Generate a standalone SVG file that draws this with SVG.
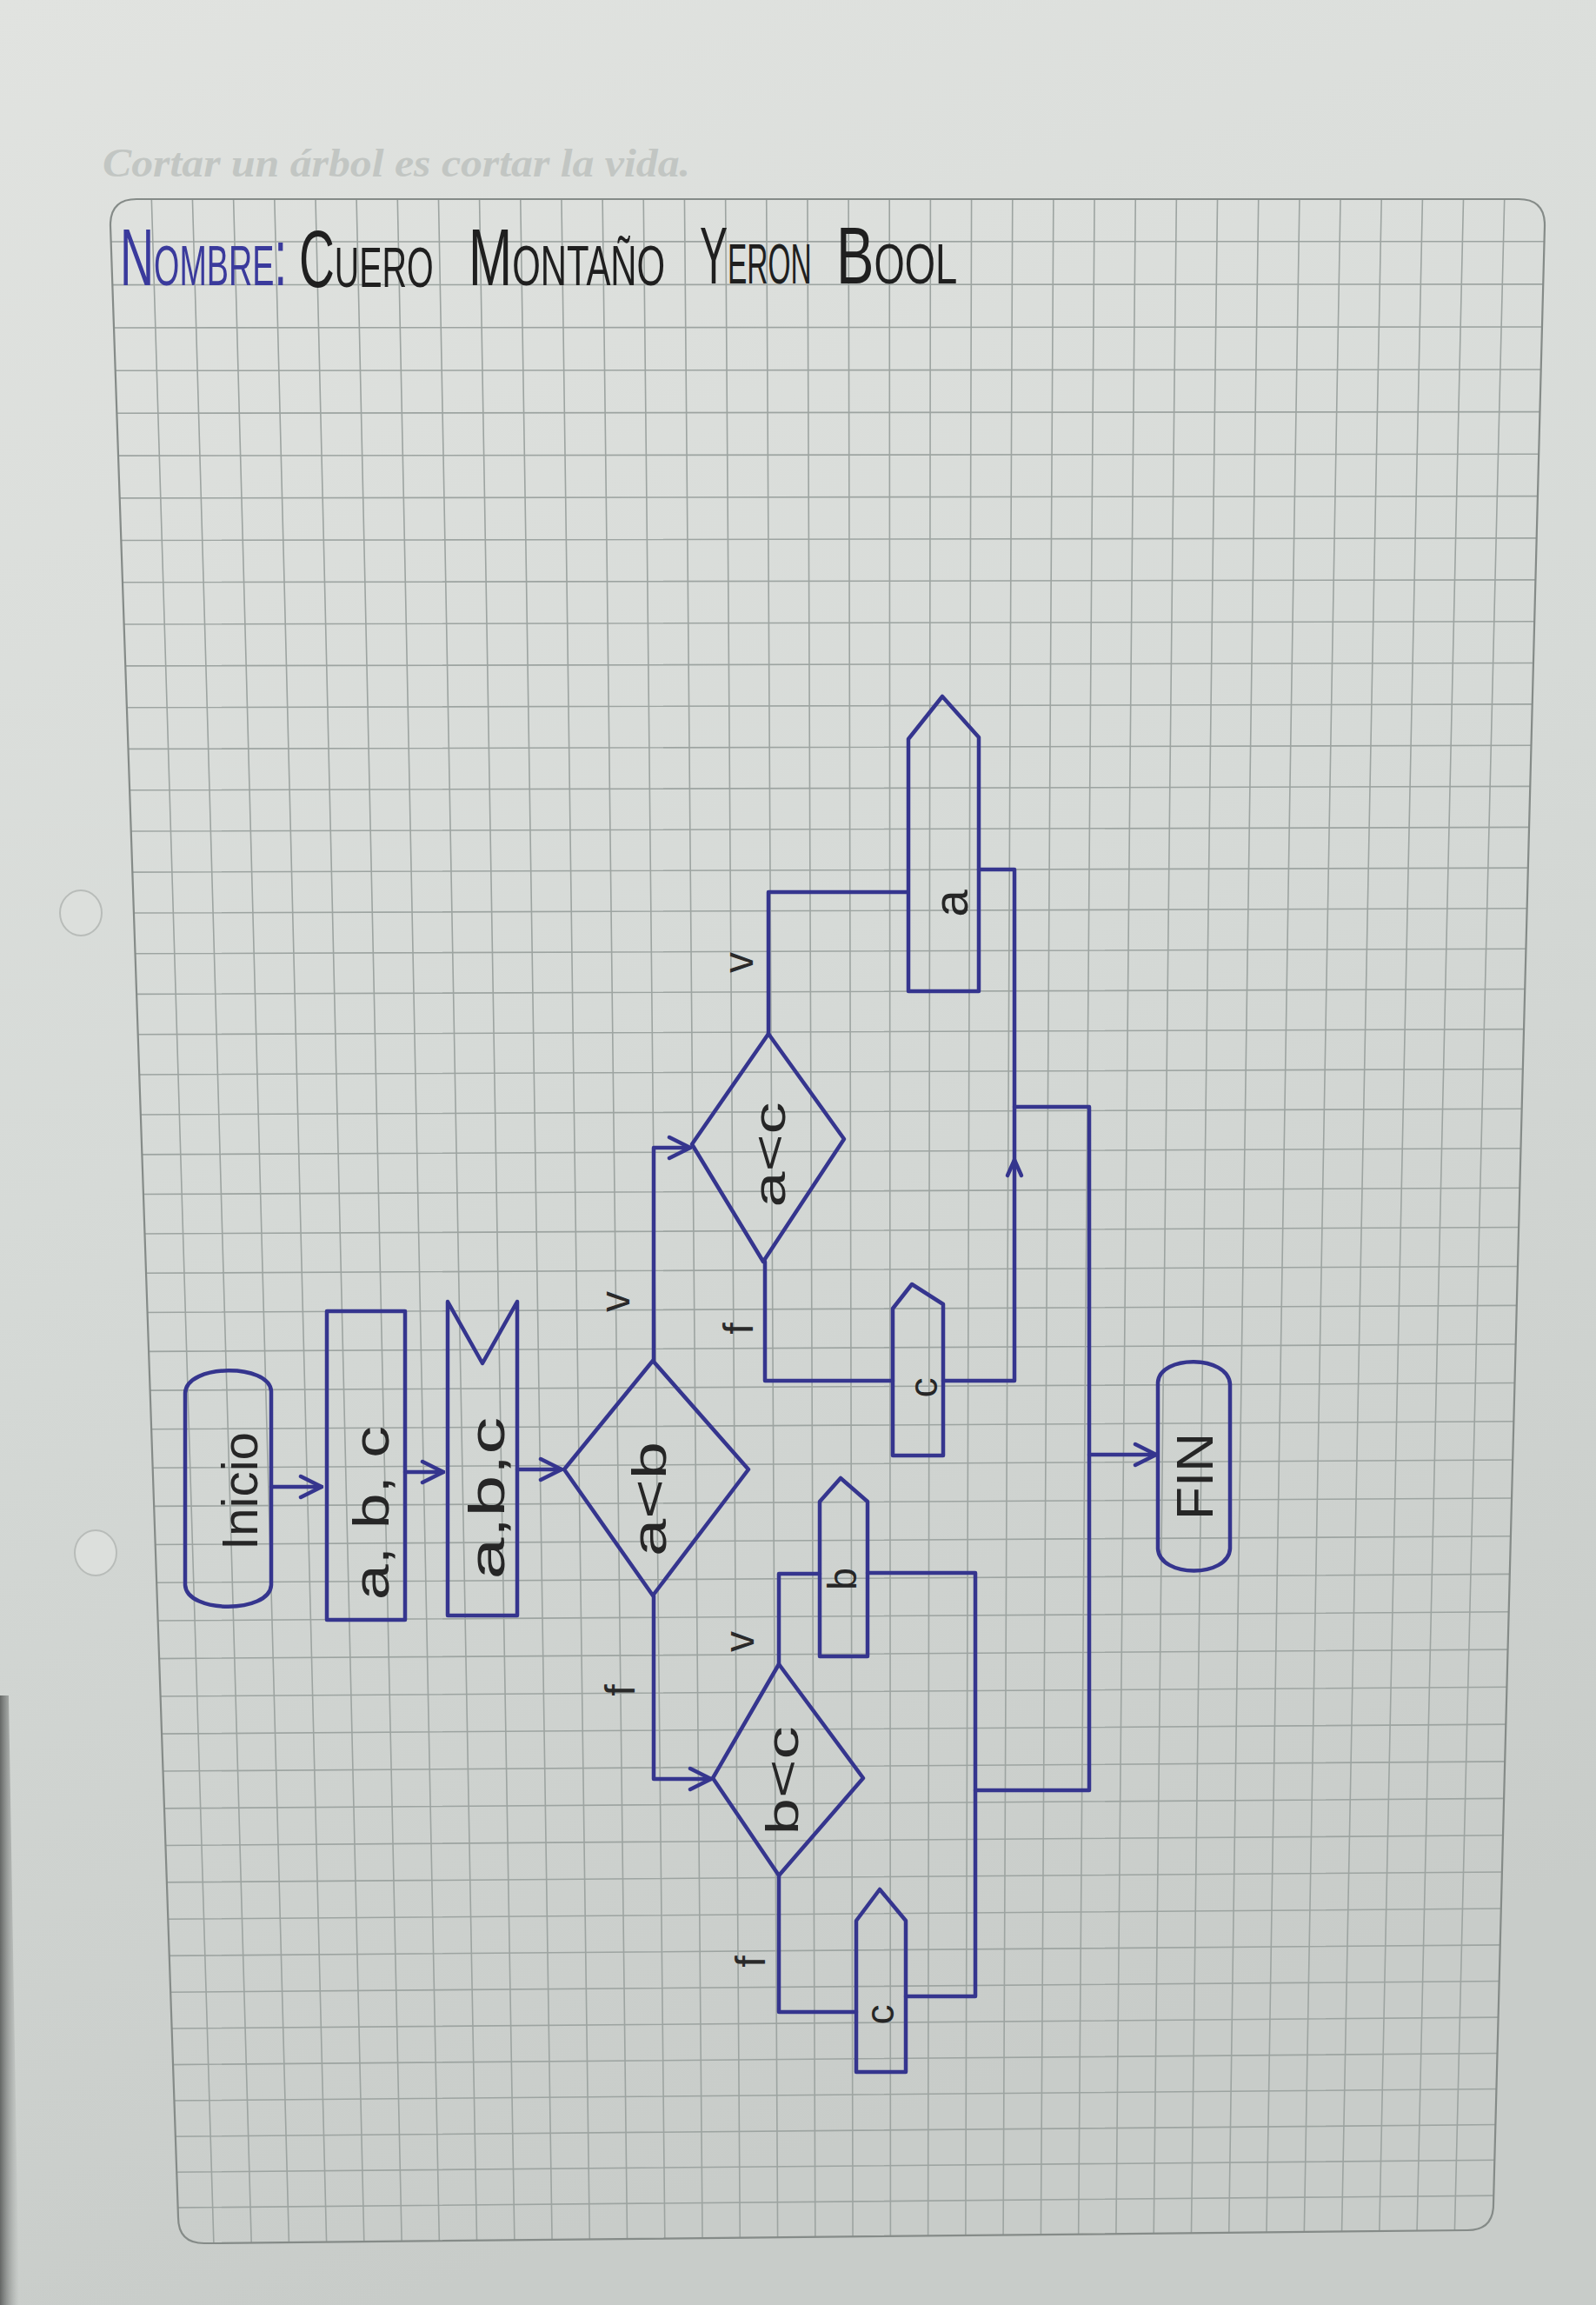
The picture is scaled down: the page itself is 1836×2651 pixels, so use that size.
<svg xmlns="http://www.w3.org/2000/svg" width="1836" height="2651" viewBox="0 0 1836 2651">
<defs>
<style>
.pen{fill:none;stroke:#35358e;stroke-width:4.5;stroke-linejoin:round;stroke-linecap:round}
.hw{font-family:"Liberation Sans",Arial,sans-serif;fill:#262626;text-anchor:middle}
.lbl{font-family:"Liberation Sans",Arial,sans-serif;fill:#2a2a2a;text-anchor:middle;font-size:48px}
.hdr{font-family:"Liberation Sans",Arial,sans-serif;font-variant:small-caps;font-size:92px}
.grid{fill:none;stroke:#9da4a1;stroke-width:1.6}
</style>
<linearGradient id="bg" x1="0" y1="0" x2="0.25" y2="1">
<stop offset="0" stop-color="#e1e3e0"/>
<stop offset="0.5" stop-color="#d6dad7"/>
<stop offset="1" stop-color="#c8ccc9"/>
</linearGradient>
<linearGradient id="edge" x1="0" y1="0" x2="1" y2="0">
<stop offset="0" stop-color="#4a4c4b"/>
<stop offset="1" stop-color="#8d918f" stop-opacity="0"/>
</linearGradient>
<clipPath id="paperclip">
<path d="M157,229 L1747,229 Q1777,229 1777,259 L1718,2535 Q1718,2565 1688,2565 L235,2580 Q205,2580 205,2550 L127,259 Q127,229 157,229 Z"/>
</clipPath>
<marker id="arr" viewBox="0 0 20 20" refX="19" refY="10" markerWidth="30" markerHeight="30" markerUnits="userSpaceOnUse" orient="auto">
<path d="M3,2 L19,10 L3,18" fill="none" stroke="#35358e" stroke-width="3" stroke-linecap="round" stroke-linejoin="round"/>
</marker>
</defs>

<g id="paper">
<rect x="0" y="0" width="1836" height="2651" fill="url(#bg)"/>
<path d="M0,1950 L10,1950 L22,2651 L0,2651 Z" fill="url(#edge)" opacity="0.8"/>
<ellipse cx="93" cy="1050" rx="24" ry="26" fill="#dcdfdc" stroke="#b8bcb9" stroke-width="2"/>
<ellipse cx="110" cy="1786" rx="24" ry="26" fill="#dcdfdc" stroke="#b8bcb9" stroke-width="2"/>
<text x="118" y="203" font-family="'Liberation Serif',serif" font-style="italic" font-weight="bold" font-size="46" fill="#c2c6c3" textLength="676" lengthAdjust="spacingAndGlyphs">Cortar un árbol es cortar la vida.</text>
<g clip-path="url(#paperclip)">
<path class="grid" d="M100,278L1800,277.7 M100,327.6L1800,326.9 M100,377L1800,376 M100,426.3L1800,425 M100,475.3L1800,473.6 M100,524.2L1800,522.2 M100,572.9L1800,570.6 M100,621.5L1800,618.8 M100,669.8L1800,666.8 M100,718L1800,714.7 M100,766L1800,762.4 M100,813.8L1800,809.8 M100,861.5L1800,857.2 M100,908.9L1800,904.3 M100,956.2L1800,951.3 M100,1003.3L1800,998 M100,1050.2L1800,1044.6 M100,1097L1800,1091.1 M100,1143.6L1800,1137.4 M100,1190L1800,1183.5 M100,1236.2L1800,1229.3 M100,1282.2L1800,1275 M100,1328.1L1800,1320.6 M100,1373.8L1800,1366 M100,1419.3L1800,1411.2 M100,1464.6L1800,1456.2 M100,1509.8L1800,1501.1 M100,1554.7L1800,1545.7 M100,1599.5L1800,1590.2 M100,1644.1L1800,1634.5 M100,1688.6L1800,1678.7 M100,1732.8L1800,1722.6 M100,1776.9L1800,1766.4 M100,1820.8L1800,1810 M100,1864.5L1800,1853.4 M100,1908.1L1800,1896.7 M100,1951.5L1800,1939.8 M100,1994.7L1800,1982.7 M100,2037.7L1800,2025.4 M100,2080.5L1800,2067.9 M100,2123.2L1800,2110.3 M100,2165.6L1800,2152.4 M100,2208L1800,2194.5 M100,2250.1L1800,2236.3 M100,2292L1800,2277.9 M100,2333.8L1800,2319.5 M100,2375.4L1800,2360.8 M100,2416.8L1800,2401.9 M100,2458.1L1800,2442.9 M100,2499.1L1800,2483.6 M100,2540L1800,2524.4"/>
<path class="grid" d="M174.2,225L246.2,2590 M221.3,225L289.5,2590 M268.5,225L332.7,2590 M315.7,225L375.9,2590 M362.9,225L419.1,2590 M410,225L462.4,2590 M457.2,225L505.6,2590 M504.4,225L548.8,2590 M551.5,225L592.1,2590 M598.7,225L635.3,2590 M645.9,225L678.5,2590 M693.1,225L721.7,2590 M740.2,225L765,2590 M787.4,225L808.2,2590 M834.6,225L851.4,2590 M881.7,225L894.7,2590 M928.9,225L937.9,2590 M976.1,225L981.1,2590 M1023.2,225L1024.4,2590 M1070.4,225L1067.6,2590 M1117.6,225L1110.8,2590 M1164.8,225L1154,2590 M1211.9,225L1197.3,2590 M1259.1,225L1240.5,2590 M1306.3,225L1283.7,2590 M1353.4,225L1327,2590 M1400.6,225L1370.2,2590 M1447.8,225L1413.4,2590 M1495,225L1456.6,2590 M1542.1,225L1499.9,2590 M1589.3,225L1543.1,2590 M1636.5,225L1586.3,2590 M1683.6,225L1629.5,2590 M1730.8,225L1672.8,2590"/>
</g>
<path d="M157,229 L1747,229 Q1777,229 1777,259 L1718,2535 Q1718,2565 1688,2565 L235,2580 Q205,2580 205,2550 L127,259 Q127,229 157,229 Z" fill="none" stroke="#858b88" stroke-width="2.2"/>
</g>

<g id="title">
<text class="hdr" transform="translate(138,328) scale(0.65,1)" x="0" y="0" fill="#3a3a9c" textLength="296" lengthAdjust="spacingAndGlyphs">Nombre:</text>
<text class="hdr" transform="translate(344,330) scale(0.65,1)" x="0" y="0" fill="#1f1f1f" textLength="238" lengthAdjust="spacingAndGlyphs">Cuero</text>
<text class="hdr" transform="translate(539,328) scale(0.65,1)" x="0" y="0" fill="#1f1f1f" textLength="348" lengthAdjust="spacingAndGlyphs">Montaño</text>
<text class="hdr" transform="translate(805,326) scale(0.65,1)" x="0" y="0" fill="#1f1f1f" textLength="198" lengthAdjust="spacingAndGlyphs">Yeron</text>
<text class="hdr" transform="translate(962,326) scale(0.65,1)" x="0" y="0" fill="#1f1f1f" font-size="104" textLength="214" lengthAdjust="spacingAndGlyphs">Bool</text>
</g>

<g id="connectors">
<path class="pen" d="M312,1710 L370,1710" marker-end="url(#arr)"/>
<path class="pen" d="M466,1693 L510,1693" marker-end="url(#arr)"/>
<path class="pen" d="M595,1690 L646,1690" marker-end="url(#arr)"/>
<path class="pen" d="M752,1565 L752,1320 L794,1320" marker-end="url(#arr)"/>
<path class="pen" d="M752,1835 L752,2046 L818,2046" marker-end="url(#arr)"/>
<path class="pen" d="M884,1189 L884,1026 L1043,1026"/>
<path class="pen" d="M1126,1000 L1167,1000 L1167,1588 L1085,1588"/>
<path class="pen" d="M1159,1352 L1167,1334 L1175,1352"/>
<path class="pen" d="M1167,1273 L1253,1273 L1253,2059 L1122,2059"/>
<path class="pen" d="M1253,1673 L1330,1673" marker-end="url(#arr)"/>
<path class="pen" d="M880,1451 L880,1588 L1027,1588"/>
<path class="pen" d="M896,1914 L896,1810 L943,1810"/>
<path class="pen" d="M998,1809 L1122,1809 L1122,2296 L1042,2296"/>
<path class="pen" d="M896,2157 L896,2314 L985,2314"/>
</g>

<g id="inicio">
<path class="pen" d="M213,1602 C215,1568 310,1568 312,1600 L312,1823 C310,1856 215,1856 213,1823 Z"/>
<text class="hw" x="296" y="1715" font-size="58" textLength="136" lengthAdjust="spacingAndGlyphs" transform="rotate(-90 296 1715)">Inicio</text>
</g>

<g id="leer">
<rect class="pen" x="376" y="1508" width="90" height="355"/>
<text class="hw" x="447" y="1740" font-size="58" textLength="200" lengthAdjust="spacingAndGlyphs" transform="rotate(-90 447 1740)">a, b, c</text>
</g>

<g id="mostrar">
<path class="pen" d="M515,1497 L555,1568 L595,1497 L595,1858 L515,1858 Z"/>
<text class="hw" x="580" y="1723" font-size="58" textLength="187" lengthAdjust="spacingAndGlyphs" transform="rotate(-90 580 1723)">a,b,c</text>
</g>

<g id="decision-ab">
<path class="pen" d="M649,1690 L751,1565 L861,1690 L751,1835 Z"/>
<text class="hw" x="766" y="1724" font-size="56" textLength="132" lengthAdjust="spacingAndGlyphs" transform="rotate(-90 766 1724)">a&lt;b</text>
<text class="lbl" x="724" y="1497" transform="rotate(-90 724 1497)">v</text>
<text class="lbl" x="730" y="1944" transform="rotate(-90 730 1944)">f</text>
</g>

<g id="decision-ac">
<path class="pen" d="M796,1316 L884,1189 L971,1310 L878,1451 Z"/>
<text class="hw" x="903" y="1328" font-size="52" textLength="121" lengthAdjust="spacingAndGlyphs" transform="rotate(-90 903 1328)">a&lt;c</text>
<text class="lbl" x="866" y="1107" transform="rotate(-90 866 1107)">v</text>
<text class="lbl" x="866" y="1528" transform="rotate(-90 866 1528)">f</text>
</g>

<g id="decision-bc">
<path class="pen" d="M820,2045 L896,1914 L993,2045 L896,2157 Z"/>
<text class="hw" x="918" y="2048" font-size="52" textLength="125" lengthAdjust="spacingAndGlyphs" transform="rotate(-90 918 2048)">b&lt;c</text>
<text class="lbl" x="867" y="1888" transform="rotate(-90 867 1888)">v</text>
<text class="lbl" x="880" y="2256" transform="rotate(-90 880 2256)">f</text>
</g>

<g id="salida-a">
<path class="pen" d="M1045,1140 L1045,850 L1084,801 L1126,848 L1126,1140 Z"/>
<text class="hw" x="1113" y="1039" font-size="56" transform="rotate(-90 1113 1039)">a</text>
</g>

<g id="salida-c1">
<path class="pen" d="M1027,1674 L1027,1505 L1049,1477 L1085,1500 L1085,1674 Z"/>
<text class="hw" x="1078" y="1596" font-size="46" transform="rotate(-90 1078 1596)">c</text>
</g>

<g id="salida-b">
<path class="pen" d="M943,1905 L943,1727 L967,1700 L998,1727 L998,1905 Z"/>
<text class="hw" x="985" y="1816" font-size="46" transform="rotate(-90 985 1816)">b</text>
</g>

<g id="salida-c2">
<path class="pen" d="M985,2383 L985,2209 L1012,2173 L1042,2209 L1042,2383 Z"/>
<text class="hw" x="1028" y="2317" font-size="46" transform="rotate(-90 1028 2317)">c</text>
</g>

<g id="fin">
<path class="pen" d="M1332,1590 C1334,1558 1413,1558 1415,1592 L1415,1781 C1413,1815 1334,1815 1332,1781 Z"/>
<text class="hw" x="1395" y="1698" font-size="60" textLength="100" lengthAdjust="spacingAndGlyphs" transform="rotate(-90 1395 1698)">FIN</text>
</g>
</svg>
